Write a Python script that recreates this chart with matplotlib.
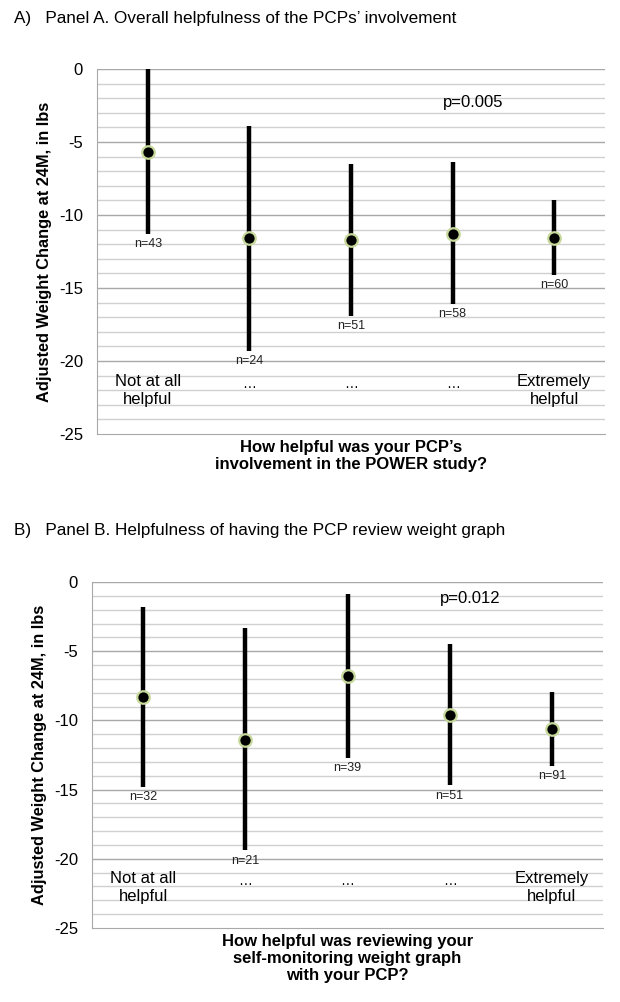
import numpy as np
import matplotlib
matplotlib.use('Agg')
import matplotlib.pyplot as plt

plt.rcParams['font.family'] = ['Liberation Sans', 'DejaVu Sans']

# categories (answer scale)
cats = ['Not at all\nhelpful', '\u2026', '\u2026', '\u2026', 'Extremely\nhelpful']

# panel A: mean, CI low, CI high, n
a_mean = [-5.7, -11.6, -11.7, -11.3, -11.55]
a_low  = [-11.3, -19.3, -16.9, -16.1, -14.1]
a_high = [0.0, -3.9, -6.5, -6.35, -8.95]
a_n    = [43, 24, 51, 58, 60]
a_p    = 'p=0.005'

# panel B
b_mean = [-8.3, -11.4, -6.8, -9.6, -10.6]
b_low  = [-14.8, -19.4, -12.7, -14.7, -13.3]
b_high = [-1.8, -3.35, -0.85, -4.45, -7.95]
b_n    = [32, 21, 39, 51, 91]
b_p    = 'p=0.012'

fig = plt.figure(figsize=(6.2, 10.02), dpi=100)


def panel(rect, mean, low, high, n, ptxt, p_y, xlabel, title, title_y):
    ax = fig.add_axes(rect)
    x = np.arange(len(cats))
    ax.set_xlim(-0.5, len(cats) - 0.5)
    ax.set_ylim(-25, 0)
    # grid: minor every 1, major every 5
    for v in range(-24, 0):
        ax.axhline(v, color='#d0d0d0' if v % 5 else '#a8a8a8', lw=1.0, zorder=0)
    ax.axhline(0, color='#a8a8a8', lw=1.0, zorder=0)
    for s in ['top', 'right']:
        ax.spines[s].set_visible(False)
    ax.spines['left'].set_color('#a8a8a8')
    ax.spines['bottom'].set_color('#a8a8a8')
    ax.set_xticks([])
    ax.set_yticks([0, -5, -10, -15, -20, -25])
    ax.set_yticklabels(['0', '-5', '-10', '-15', '-20', '-25'])
    ax.tick_params(axis='y', length=0, pad=10, labelsize=12)

    ax.vlines(x, low, high, color='black', lw=3.2, zorder=2)
    ax.plot(x, mean, 'o', color='black', ms=9, mec='#c6d89a', mew=1.6, zorder=3)
    for xi, lo, ni in zip(x, low, n):
        ax.annotate('n=%d' % ni, (xi, lo), xytext=(0, -3), textcoords='offset points',
                    ha='center', va='top', fontsize=9, color='#222222')
    for xi, c in enumerate(cats):
        if '\n' in c:
            ax.text(xi, -22.05, c, ha='center', va='center', fontsize=12, linespacing=1.25)
        else:
            ax.text(xi, -21.6, c, ha='center', va='center', fontsize=10)
    ax.text(3.2, p_y, ptxt, ha='center', va='center', fontsize=12)
    ax.set_xlabel(xlabel, fontsize=12, fontweight='bold', labelpad=4, linespacing=1.2)
    ax.set_ylabel('Adjusted Weight Change at 24M, in lbs', fontsize=11.8,
                  fontweight='bold', labelpad=5)
    fig.text(14 / 620, title_y, title, ha='left', va='center', fontsize=12.3)
    return ax


panel([97 / 620, 1 - 434 / 1002, 508 / 620, 365 / 1002], a_mean, a_low, a_high, a_n, a_p, -2.3,
      "How helpful was your PCP\u2019s\ninvolvement in the POWER study?",
      "A)   Panel A. Overall helpfulness of the PCPs\u2019 involvement", 1 - 18 / 1002)
panel([92 / 620, 1 - 928 / 1002, 511 / 620, 346 / 1002], b_mean, b_low, b_high, b_n, b_p, -1.2,
      "How helpful was reviewing your\nself-monitoring weight graph\nwith your PCP?",
      "B)   Panel B. Helpfulness of having the PCP review weight graph", 1 - 530 / 1002)

fig.savefig('out.png', dpi=100)
